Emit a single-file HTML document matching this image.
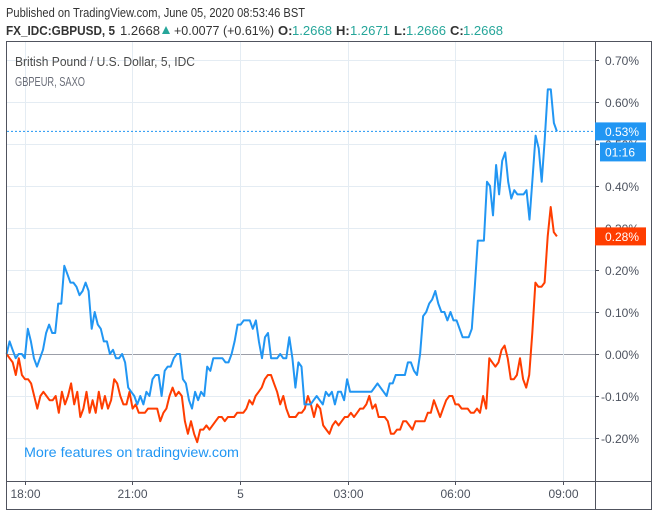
<!DOCTYPE html>
<html><head><meta charset="utf-8"><style>
html,body{margin:0;padding:0;background:#fff;width:653px;height:513px;overflow:hidden}
svg{display:block;font-family:"Liberation Sans",sans-serif}
</style></head><body>
<svg id="chart" width="653" height="513" viewBox="0 0 653 513">
<text x="6" y="17" font-size="13" fill="#333" textLength="299" lengthAdjust="spacingAndGlyphs">Published on TradingView.com, June 05, 2020 08:53:46 BST</text>
<g font-size="13">
<text x="6" y="35" font-weight="bold" fill="#333" textLength="109" lengthAdjust="spacingAndGlyphs">FX_IDC:GBPUSD, 5</text>
<text x="120" y="35" fill="#333" textLength="40" lengthAdjust="spacingAndGlyphs">1.2668</text>
<polygon points="162,34 166,26 170,34" fill="#26a69a"/>
<text x="174" y="35" fill="#333" textLength="100" lengthAdjust="spacingAndGlyphs">+0.0077 (+0.61%)</text>
<text x="278" y="35" font-weight="bold" fill="#333">O:</text>
<text x="292" y="35" fill="#26a69a" textLength="40" lengthAdjust="spacingAndGlyphs">1.2668</text>
<text x="336" y="35" font-weight="bold" fill="#333">H:</text>
<text x="350" y="35" fill="#26a69a" textLength="40" lengthAdjust="spacingAndGlyphs">1.2671</text>
<text x="394" y="35" font-weight="bold" fill="#333">L:</text>
<text x="406" y="35" fill="#26a69a" textLength="40" lengthAdjust="spacingAndGlyphs">1.2666</text>
<text x="450" y="35" font-weight="bold" fill="#333">C:</text>
<text x="463" y="35" fill="#26a69a" textLength="40" lengthAdjust="spacingAndGlyphs">1.2668</text>
</g>
<g id="grid"></g>
<g id="series"></g>
<rect x="6.5" y="41.5" width="645" height="468" fill="none" stroke="#50535e" stroke-width="1"/>
<line x1="595.5" y1="41" x2="595.5" y2="510" stroke="#50535e"/>
<line x1="6" y1="481.5" x2="652" y2="481.5" stroke="#50535e"/>
<g id="yaxis" font-size="12" fill="#4c525e"></g>
<g id="xaxis" font-size="12" fill="#4c525e"></g>
<text x="15" y="66" font-size="12.5" fill="#4a4a4a" textLength="180" lengthAdjust="spacingAndGlyphs">British Pound / U.S. Dollar, 5, IDC</text>
<text x="15" y="86" font-size="12.5" fill="#6a6d78" textLength="70" lengthAdjust="spacingAndGlyphs">GBPEUR, SAXO</text>
<text x="24" y="457" font-size="13.5" fill="#2196f3" textLength="215" lengthAdjust="spacingAndGlyphs">More features on tradingview.com</text>
<g id="labels"></g>
</svg>
<script>
const yTicks = [0.7,0.6,0.5,0.4,0.3,0.2,0.1,0,-0.1,-0.2];
const xTickLabels = ["18:00","21:00","5","03:00","06:00","09:00"];
const xTickHours = [0,3,6,9,12,15];
const seriesStartHour = -0.5;
const seriesEndHour = 14.83;
const blueValues = [0.00,0.03,0.01,-0.01,0.00,0.00,-0.01,0.06,0.03,-0.01,-0.03,-0.01,0.01,0.05,0.07,0.05,0.05,0.12,0.12,0.21,0.19,0.17,0.17,0.16,0.14,0.15,0.17,0.15,0.06,0.10,0.07,0.06,0.03,0.03,0.00,0.01,-0.01,-0.01,0.00,-0.02,-0.08,-0.09,-0.10,-0.12,-0.10,-0.12,-0.09,-0.10,-0.06,-0.05,-0.05,-0.10,-0.04,-0.03,-0.03,-0.01,0.00,0.00,-0.06,-0.07,-0.11,-0.13,-0.09,-0.11,
-0.09,-0.10,-0.03,-0.04,-0.01,-0.01,-0.01,-0.01,-0.02,-0.02,0.00,0.03,0.07,0.07,0.08,0.08,0.08,0.06,0.08,0.03,-0.01,0.04,0.05,-0.01,-0.01,-0.01,0.00,-0.01,-0.01,0.04,-0.01,-0.08,-0.02,-0.03,-0.12,-0.12,-0.12,-0.11,-0.10,-0.11,-0.12,-0.09,-0.10,-0.09,-0.12,-0.09,-0.09,-0.11,-0.06,-0.09,-0.09,-0.09,-0.09,-0.09,
-0.09,-0.09,-0.09,-0.08,-0.07,-0.08,-0.09,-0.10,-0.07,-0.07,-0.05,-0.05,-0.05,-0.05,-0.02,-0.02,-0.04,-0.05,0.00,0.09,0.10,0.12,0.13,0.15,0.12,0.10,0.10,0.08,0.10,0.08,0.08,0.06,0.04,0.04,0.04,0.06,0.16,0.27,0.27,0.27,0.41,0.40,0.33,0.45,0.38,0.46,0.48,0.41,0.37,0.39,0.38,0.38,0.38,0.39,0.32,0.42,0.52,0.49,0.41,0.51,0.63,0.63,0.55,0.53];
const redValues = [0.00,-0.01,-0.02,-0.05,-0.01,-0.05,-0.06,-0.06,-0.07,-0.10,-0.13,-0.10,-0.09,-0.10,-0.11,-0.11,-0.10,-0.14,-0.09,-0.12,-0.10,-0.07,-0.12,-0.09,-0.15,-0.13,-0.09,-0.14,-0.11,-0.14,-0.09,-0.13,-0.10,-0.13,-0.11,-0.06,-0.07,-0.10,-0.12,-0.12,-0.09,-0.13,-0.12,-0.14,-0.14,-0.14,-0.13,-0.13,-0.13,-0.13,-0.16,-0.14,-0.13,-0.10,-0.08,-0.10,-0.09,-0.10,-0.16,-0.19,-0.16,-0.19,-0.21,-0.18,-0.18,
-0.17,-0.18,-0.17,-0.16,-0.15,-0.15,-0.16,-0.15,-0.15,-0.15,-0.14,-0.14,-0.14,-0.13,-0.11,-0.12,-0.10,-0.09,-0.08,-0.06,-0.05,-0.05,-0.07,-0.09,-0.12,-0.10,-0.13,-0.15,-0.15,-0.15,-0.14,-0.14,-0.13,-0.10,-0.12,-0.15,-0.12,-0.13,-0.17,-0.18,-0.19,-0.17,-0.16,-0.17,-0.16,-0.15,-0.15,-0.14,-0.15,-0.14,-0.13,-0.13,-0.12,
-0.10,-0.13,-0.12,-0.15,-0.15,-0.15,-0.16,-0.19,-0.19,-0.18,-0.18,-0.16,-0.16,-0.17,-0.18,-0.16,-0.16,-0.16,-0.16,-0.14,-0.14,-0.11,-0.13,-0.15,-0.13,-0.11,-0.10,-0.10,-0.12,-0.12,-0.13,-0.13,-0.13,-0.14,-0.14,-0.13,-0.14,-0.10,-0.13,-0.01,-0.02,-0.03,-0.02,0.01,0.02,-0.01,-0.06,-0.06,-0.05,-0.01,-0.06,-0.08,-0.05,0.05,0.17,0.16,0.16,0.17,0.28,0.35,0.29,0.28];
const lastLabels = ["0.53%","0.28%"];
const lastValues = [0.53,0.28];
const countdown = "01:16";

const NS="http://www.w3.org/2000/svg";
const yScale=v=>354-420*v;
const xScale=h=>24.5+h*35.9;
function mk(tag,attrs,parent){const e=document.createElementNS(NS,tag);for(const k in attrs)e.setAttribute(k,attrs[k]);parent.appendChild(e);return e;}
const grid=document.getElementById('grid'),ya=document.getElementById('yaxis'),xa=document.getElementById('xaxis'),ser=document.getElementById('series'),lab=document.getElementById('labels');
yTicks.forEach(v=>{
  const y=Math.round(yScale(v))+0.5;
  const g=mk('line',{x1:7,x2:595,y1:y,y2:y,stroke:v===0?'#9b9ea8':'#e4ecf3','stroke-width':1},grid);
  
  
  const t=mk('line',{x1:595,x2:599,y1:y,y2:y,stroke:'#50535e'},ya);
  
  
  const tx=mk('text',{x:v<0?601:605,y:y+4.5},ya);
  tx.textContent=v.toFixed(2)+'%';
  
  
});
xTickHours.forEach((h,i)=>{
  const x=Math.round(xScale(h))+0.5;
  const g=mk('line',{x1:x,x2:x,y1:42,y2:481,stroke:'#e4ecf3'},grid);
  
  
  const t=mk('line',{x1:x,x2:x,y1:481,y2:485,stroke:'#50535e'},xa);
  
  
  const tx=mk('text',{x:x,y:498,'text-anchor':'middle'},xa);
  tx.textContent=xTickLabels[i];
  
  
});
function path(vals){
  const n=vals.length;
  return vals.map((v,i)=>{const h=seriesStartHour+(seriesEndHour-seriesStartHour)*i/(n-1);return (i?'L':'M')+xScale(h).toFixed(1)+','+yScale(v).toFixed(1);}).join('');
}
const dl=mk('line',{x1:7,x2:595,y1:yScale(lastValues[0]),y2:yScale(lastValues[0]),stroke:'#2196f3','stroke-dasharray':'2,2','stroke-width':1},ser);


const rp=mk('path',{d:path(redValues),fill:'none',stroke:'#ff3d00','stroke-width':2,'stroke-linejoin':'round'},ser);


const bp=mk('path',{d:path(blueValues),fill:'none',stroke:'#2196f3','stroke-width':2,'stroke-linejoin':'round'},ser);


const colors=['#2196f3','#ff3d00'];
lastValues.forEach((v,i)=>{
  const y=yScale(v);
  const r=mk('rect',{x:595,y:y-9,width:51,height:18,fill:colors[i]},lab);
  
  
  const t=mk('text',{x:605,y:y+4.5,'font-size':12,fill:'#fff'},lab);
  t.textContent=lastLabels[i];
  
  
});
const cb=mk('rect',{x:600,y:yScale(lastValues[0])+11,width:46,height:19,fill:'#2196f3'},lab);


const ct=mk('text',{x:605,y:yScale(lastValues[0])+25,'font-size':12,fill:'#fff'},lab);
ct.textContent=countdown;


</script>
</body></html>
